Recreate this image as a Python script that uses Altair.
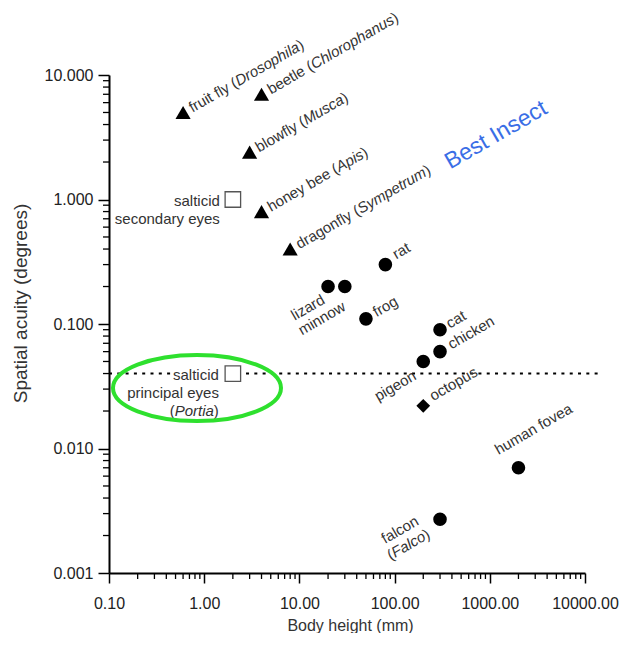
import altair as alt
import pandas as pd

# ---------------- data ----------------
insect_names = ["fruit fly", "beetle", "blowfly", "honey bee", "dragonfly"]
insect_genera = ["Drosophila", "Chlorophanus", "Musca", "Apis", "Sympetrum"]
insect_height = [0.6, 4.0, 3.0, 4.0, 8.0]
insect_acuity = [5.0, 7.0, 2.4, 0.8, 0.4]

vert_names = ["rat", "lizard", "minnow", "frog", "cat", "chicken", "pigeon", "human fovea", "falcon"]
vert_height = [80, 20, 30, 50, 300, 300, 200, 2000, 300]
vert_acuity = [0.3, 0.2, 0.2, 0.11, 0.09, 0.06, 0.05, 0.007, 0.0027]

mollusc_names = ["octopus"]
mollusc_height = [200]
mollusc_acuity = [0.022]

salticid_names = ["secondary eyes", "principal eyes"]
salticid_height = [2, 2]
salticid_acuity = [1.0, 0.04]

reference_acuity = 0.04
reference_gap = [0.44, 2.75]          # line interrupted behind the salticid label
reference_extent = [0.1, 14000]

x_tick_values = [0.1, 1, 10, 100, 1000, 10000]
y_tick_values = [0.001, 0.01, 0.1, 1, 10]
x_minor = [k * 10.0 ** e for e in range(-1, 4) for k in range(2, 10)]
y_minor = [k * 10.0 ** e for e in range(-3, 1) for k in range(2, 10)]

annotation_text = "Best Insect"
annotation_pos = (1160, 3.3)
highlight_pos = (0.84, 0.0306)        # centre of the green ellipse

# ---------------- styling ----------------
FONT = "Liberation Sans"
FS = 15
LABEL_COLOR = "#333333"
ANGLE = 330

xscale = alt.Scale(type="log", domain=[0.1, 10000], nice=False)
yscale = alt.Scale(type="log", domain=[0.001, 10], nice=False)
xaxis = alt.Axis(values=x_tick_values, format=".2f", title="Body height (mm)",
                 tickSize=10, labelPadding=12, titleX=241, titleY=57, titleFontSize=16,
                 titleBaseline="alphabetic", titleAlign="center")
yaxis = alt.Axis(values=y_tick_values, format=".3f", title="Spatial acuity (degrees)",
                 tickSize=11, labelPadding=5, titleX=-89, titleY=228, titleAngle=270,
                 titleFontSize=19, titleBaseline="middle", titleAlign="center")


def X(field):
    return alt.X(field, type="quantitative", scale=xscale, axis=xaxis)


def Y(field):
    return alt.Y(field, type="quantitative", scale=yscale, axis=yaxis)


# Arial / Liberation Sans advance widths (per 1000 em)
AW = {' ': 278, '(': 333, ')': 333, '.': 278,
      'a': 556, 'b': 556, 'c': 500, 'd': 556, 'e': 556, 'f': 278, 'g': 556, 'h': 556,
      'i': 222, 'j': 222, 'k': 500, 'l': 222, 'm': 833, 'n': 556, 'o': 556, 'p': 556,
      'q': 556, 'r': 333, 's': 500, 't': 278, 'u': 556, 'v': 500, 'w': 722, 'x': 500,
      'y': 500, 'z': 500, 'A': 667, 'B': 667, 'C': 722, 'D': 722, 'F': 611, 'M': 833,
      'P': 667, 'S': 667}


def tw(s):
    return sum(AW.get(c, 556) for c in s) * FS / 1000.0


# label placement: anchor point, alignment, u (along text), angle, lines [(v, segments)]
labels = []
for n, g, h, a in zip(insect_names, insect_genera, insect_height, insect_acuity):
    labels.append((h, a, "left", 8, ANGLE, [(5, [(n + " (", False), (g, True), (")", False)])]))

vert_place = {
    "rat": ("left", 12, 1),
    "frog": ("left", 10, 4),
    "cat": ("left", 9, 4),
    "chicken": ("left", 11, 4),
    "human fovea": ("left", -11, -21),
    "lizard": ("right", -10, 13),
    "minnow": ("right", -10, 21),
    "pigeon": ("right", -14, 12),
}
for n, h, a in zip(vert_names, vert_height, vert_acuity):
    if n == "falcon":
        labels.append((h, a, "center", -40, ANGLE,
                       [(-6, [("falcon", False)]), (11, [("(", False), ("Falco", True), (")", False)])]))
    else:
        al, u, v = vert_place[n]
        labels.append((h, a, al, u, ANGLE, [(v, [(n, False)])]))

for n, h, a in zip(mollusc_names, mollusc_height, mollusc_acuity):
    labels.append((h, a, "left", 11, ANGLE, [(1, [(n, False)])]))

labels.append((salticid_height[0], salticid_acuity[0], "right", -13, 0,
               [(6, [("salticid", False)]), (24, [(salticid_names[0], False)])]))
labels.append((salticid_height[1], salticid_acuity[1], "right", -14, 0,
               [(6, [("salticid", False)]), (24, [(salticid_names[1], False)]),
                (42, [("(", False), ("Portia", True), (")", False)])]))

# ---------------- layers ----------------
layers = []

# minor ticks
layers.append(alt.Chart(pd.DataFrame({"v": x_minor})).mark_rule(color="black", strokeWidth=1.3).encode(
    x=X("v"), y=alt.value(498), y2=alt.value(504)))
layers.append(alt.Chart(pd.DataFrame({"v": y_minor})).mark_rule(color="black", strokeWidth=1.3).encode(
    y=Y("v"), x=alt.value(0), x2=alt.value(-6)))

# dotted reference line
ref_df = pd.DataFrame({"x1": [reference_extent[0], reference_gap[1]],
                       "x2": [reference_gap[0], reference_extent[1]],
                       "a": [reference_acuity, reference_acuity]})
layers.append(alt.Chart(ref_df).mark_rule(color="black", strokeWidth=2, strokeDash=[3, 5.3]).encode(
    x=X("x1"), x2="x2:Q", y=Y("a")))

# markers
ins_df = pd.DataFrame({"h": insect_height, "a": insect_acuity, "n": insect_names})
layers.append(alt.Chart(ins_df).mark_point(shape="triangle-up", filled=True, color="black",
                                           size=230, opacity=1).encode(x=X("h"), y=Y("a")))
vert_df = pd.DataFrame({"h": vert_height, "a": vert_acuity, "n": vert_names})
layers.append(alt.Chart(vert_df).mark_point(shape="circle", filled=True, color="black",
                                            size=185, opacity=1).encode(x=X("h"), y=Y("a")))
mol_df = pd.DataFrame({"h": mollusc_height, "a": mollusc_acuity, "n": mollusc_names})
layers.append(alt.Chart(mol_df).mark_point(shape="diamond", filled=True, color="black",
                                           size=190, opacity=1).encode(x=X("h"), y=Y("a")))
sal_df = pd.DataFrame({"h": salticid_height, "a": salticid_acuity, "n": salticid_names})
layers.append(alt.Chart(sal_df).mark_point(shape="square", filled=True, fill="white", stroke="#555555",
                                           strokeWidth=1.3, size=240, opacity=1).encode(x=X("h"), y=Y("a")))

# labels, one text mark per styled segment
for (h, a, align, u, ang, lines) in labels:
    for v, segs in lines:
        total = sum(tw(t) for t, _ in segs)
        if align == "left":
            start = u
        elif align == "right":
            start = u - total
        else:
            start = u - total / 2.0
        cum = 0.0
        for t, ital in segs:
            seg_df = pd.DataFrame({"h": [h], "a": [a], "t": [t]})
            layers.append(alt.Chart(seg_df).mark_text(
                align="left", baseline="alphabetic", dx=start + cum, dy=v, angle=ang,
                font=FONT, fontSize=FS, fontStyle="italic" if ital else "normal",
                color=LABEL_COLOR).encode(x=X("h"), y=Y("a"), text="t:N"))
            cum += tw(t)

# Best Insect annotation
ann_df = pd.DataFrame({"h": [annotation_pos[0]], "a": [annotation_pos[1]], "t": [annotation_text]})
layers.append(alt.Chart(ann_df).mark_text(
    align="center", baseline="middle", angle=ANGLE, font=FONT, fontSize=23, color="#3a6ee6").encode(
    x=X("h"), y=Y("a"), text="t:N"))

# green ellipse highlight
k = 0.5523
ry = 0.393
ell = (f"M -1 0 C -1 {-ry*k:.4f} {-k} {-ry} 0 {-ry} C {k} {-ry} 1 {-ry*k:.4f} 1 0 "
       f"C 1 {ry*k:.4f} {k} {ry} 0 {ry} C {-k} {ry} -1 {ry*k:.4f} -1 0 Z")
hl_df = pd.DataFrame({"h": [highlight_pos[0]], "a": [highlight_pos[1]]})
layers.append(alt.Chart(hl_df).mark_point(shape=ell, size=168 * 168, filled=False, stroke="#2ee02e",
                                          strokeWidth=4, opacity=1).encode(x=X("h"), y=Y("a")))

chart = alt.layer(*layers).properties(
    width=476, height=498,
    autosize=alt.AutoSizeParams(type="none"),
    padding={"left": 101, "top": 67, "right": 38, "bottom": 60},
    background="white",
).configure_view(stroke=None).configure_axis(
    grid=False, domainColor="black", domainWidth=2, tickColor="black", tickWidth=1.5,
    labelFont=FONT, labelFontSize=16, labelColor="#222222", labelOverlap=False, labelFlush=False,
    titleFont=FONT, titleFontWeight="normal", titleColor="#333333",
)

chart.save("out.html", embed_options={"renderer": "svg", "actions": False})
